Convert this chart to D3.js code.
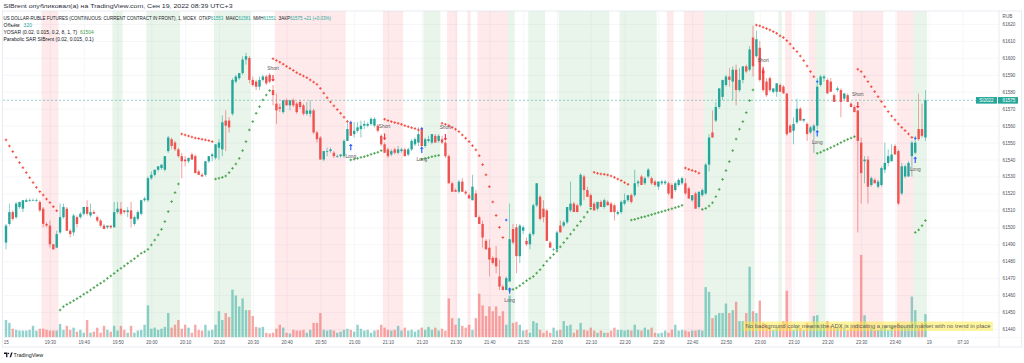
<!DOCTYPE html>
<html>
<head>
<meta charset="utf-8">
<script src="https://cdn.jsdelivr.net/npm/d3@7"></script>
<style>
  body { margin: 0; background: #fff; overflow: hidden; }
  svg text { font-family: "Liberation Sans", Arial, sans-serif; }
</style>
</head>
<body>
<div id="chart"></div>
<script>
// one bar per minute, first bar 19:17, last bar 23:49
var ohlc = [
[61491,61502,61487,61501],[61502,61514,61501,61509],[61509,61510,61504,61505],[61506,61515,61505,61514],[61512,61515,61511,61515],
[61511,61516,61509,61516],[61515,61517,61515,61516],[61516,61517,61515,61516],[61516,61517,61516,61516],[61516,61517,61515,61516],
[61515,61516,61509,61510],[61511,61512,61500,61502],[61502,61503,61500,61501],[61501,61504,61488,61490],[61490,61490,61487,61487],
[61488,61498,61488,61496],[61497,61514,61496,61506],[61506,61514,61505,61512],[61511,61512,61498,61498],[61498,61499,61494,61496],
[61497,61508,61495,61507],[61506,61507,61500,61502],[61506,61509,61505,61508],[61508,61512,61507,61512],[61512,61516,61507,61508],
[61507,61514,61506,61509],[61509,61510,61508,61508],[61506,61507,61503,61504],[61504,61505,61500,61501],[61501,61502,61499,61499],
[61500,61501,61499,61501],[61501,61501,61499,61500],[61500,61515,61500,61509],[61509,61515,61508,61511],[61511,61515,61507,61508],
[61510,61510,61508,61509],[61509,61512,61506,61510],[61510,61515,61500,61505],[61502,61507,61501,61506],[61505,61510,61504,61509],
[61508,61516,61507,61516],[61516,61518,61515,61517],[61516,61530,61515,61529],[61529,61533,61528,61531],[61531,61534,61530,61534],
[61534,61536,61533,61536],[61535,61537,61534,61537],[61534,61542,61533,61542],[61545,61554,61544,61553],[61552,61553,61546,61548],
[61550,61551,61545,61546],[61546,61547,61541,61542],[61542,61544,61529,61539],[61540,61542,61536,61539],[61539,61541,61538,61541],
[61543,61544,61540,61540],[61542,61543,61532,61532],[61533,61534,61531,61531],[61531,61532,61530,61530],[61531,61539,61530,61539],
[61539,61542,61538,61542],[61542,61544,61539,61543],[61541,61549,61540,61549],[61547,61552,61540,61550],[61546,61566,61542,61562],
[61563,61569,61545,61560],[61563,61565,61556,61559],[61567,61588,61566,61587],[61586,61590,61585,61589],[61588,61591,61587,61591],
[61591,61601,61590,61599],[61599,61603,61596,61601],[61600,61601,61585,61587],[61587,61589,61583,61584],[61586,61587,61581,61583],
[61583,61589,61581,61587],[61587,61590,61586,61589],[61589,61590,61584,61585],[61590,61591,61585,61586],[61581,61584,61572,61578],
[61573,61579,61561,61569],[61571,61573,61568,61570],[61568,61575,61567,61575],[61575,61576,61572,61572],[61572,61575,61569,61575],
[61575,61576,61571,61572],[61573,61574,61567,61568],
[61574,61575,61570,61571],[61572,61573,61566,61567],[61567,61574,61566,61569],
[61567,61575,61565,61569],[61569,61570,61555,61556],[61556,61557,61550,61552],[61553,61554,61540,61540],[61540,61545,61539,61545],
[61545,61547,61542,61545],[61545,61547,61544,61546],[61544,61545,61541,61542],[61542,61543,61541,61542],[61542,61543,61541,61543],
[61542,61552,61541,61551],[61551,61562,61551,61558],[61562,61563,61554,61554],[61555,61562,61553,61557],[61557,61562,61556,61559],
[61558,61563,61553,61560],[61560,61563,61558,61561],[61560,61562,61559,61561],[61561,61565,61560,61564],[61560,61565,61559,61564],
[61560,61561,61556,61557],[61554,61555,61548,61549],[61549,61550,61544,61544],[61546,61547,61541,61542],[61543,61546,61542,61545],
[61546,61547,61543,61544],[61544,61548,61543,61546],[61545,61547,61544,61546],[61546,61547,61542,61542],[61543,61547,61542,61546],
[61546,61552,61545,61551],[61549,61553,61548,61552],[61550,61559,61548,61555],[61558,61559,61547,61548],[61548,61553,61547,61552],
[61551,61554,61550,61552],[61550,61555,61549,61555],[61554,61555,61550,61550],[61551,61555,61550,61554],[61552,61554,61549,61550],
[61550,61551,61541,61542],[61542,61543,61526,61526],[61526,61527,61521,61521],[61522,61523,61521,61521],[61521,61528,61520,61527],
[61527,61529,61521,61521],[61521,61522,61519,61520],[61519,61520,61517,61517],[61516,61531,61516,61524],[61520,61522,61506,61506],
[61506,61507,61502,61502],[61502,61504,61488,61494],[61492,61493,61487,61487],[61488,61493,61471,61481],[61482,61483,61478,61479],
[61482,61489,61473,61477],[61471,61481,61463,61465],[61465,61466,61463,61463],[61463,61471,61463,61470],[61468,61514,61468,61493],
[61499,61502,61490,61491],[61500,61502,61473,61483],[61483,61502,61479,61501],
[61498,61501,61496,61500],[61492,61494,61489,61490],[61490,61497,61487,61496],[61496,61514,61495,61513],[61513,61526,61512,61526],
[61518,61519,61504,61505],[61511,61516,61503,61506],[61510,61511,61492,61492],[61491,61492,61488,61488],[61487,61488,61486,61487],
[61487,61498,61486,61497],[61501,61504,61497,61497],[61501,61504,61500,61503],[61503,61512,61502,61512],[61510,61527,61509,61514],
[61514,61515,61509,61509],[61513,61514,61509,61509],[61513,61532,61512,61531],[61530,61531,61516,61522],[61522,61524,61518,61518],
[61519,61520,61512,61512],[61514,61515,61510,61510],[61511,61515,61510,61515],[61515,61516,61512,61512],[61512,61517,61511,61516],
[61515,61516,61513,61513],[61514,61515,61509,61509],[61513,61514,61504,61509],[61508,61510,61507,61509],[61509,61516,61508,61515],
[61514,61520,61513,61516],[61516,61519,61515,61519],[61519,61520,61514,61515],[61519,61534,61518,61526],[61526,61528,61524,61527],
[61530,61531,61525,61525],[61526,61530,61525,61529],[61530,61535,61529,61534],[61529,61530,61525,61526],[61527,61528,61524,61525],
[61524,61527,61522,61527],[61526,61528,61525,61527],[61526,61528,61525,61527],[61526,61527,61519,61520],[61525,61526,61517,61517],
[61522,61527,61521,61526],[61525,61529,61524,61528],[61526,61530,61525,61529],[61526,61529,61519,61520],[61523,61524,61517,61517],
[61516,61519,61515,61519],[61520,61521,61511,61511],[61512,61521,61511,61521],[61519,61523,61518,61522],[61520,61538,61519,61537],
[61537,61555,61533,61553],[61556,61569,61553,61553],[61563,61574,61562,61571],[61571,61582,61570,61582],[61577,61587,61575,61587],
[61584,61590,61583,61589],[61589,61594,61583,61587],[61586,61595,61575,61593],[61593,61596,61572,61581],[61581,61594,61580,61587],
[61587,61595,61585,61595],[61595,61596,61591,61592],[61593,61607,61592,61605],[61612,61619,61589,61595],[61601,61616,61600,61611],
[61606,61610,61586,61587],[61593,61595,61580,61581],[61586,61588,61577,61578],[61588,61589,61580,61581],[61580,61582,61579,61582],
[61580,61585,61577,61585],[61584,61585,61580,61580],[61583,61584,61579,61579],[61579,61579,61554,61555],[61560,61561,61556,61556],
[61557,61565,61549,61561],[61562,61576,61561,61570],[61570,61571,61563,61563],[61563,61564,61562,61564],[61561,61562,61551,61555],
[61556,61560,61555,61559],[61557,61561,61544,61560],[61560,61588,61558,61583],[61584,61590,61583,61589],[61588,61590,61586,61589],
[61587,61588,61579,61579],[61586,61588,61580,61580],[61578,61579,61574,61574],[61581,61583,61580,61582],[61581,61582,61565,61574],
[61576,61579,61575,61579],[61578,61579,61574,61574],[61573,61574,61571,61571],[61571,61572,61568,61568],[61569,61569,61497,61551],
[61550,61553,61514,61532],[61539,61542,61526,61540],[61540,61542,61514,61524],[61525,61530,61524,61529],[61528,61529,61526,61526],
[61524,61528,61523,61527],[61525,61536,61524,61535],[61534,61550,61532,61538],[61538,61546,61536,61542],[61539,61549,61539,61543],
[61548,61549,61543,61543],[61545,61546,61513,61514],[61520,61538,61519,61536],[61530,61537,61529,61536],[61530,61539,61530,61538],
[61542,61551,61530,61550],[61544,61554,61543,61550],[61558,61579,61551,61552],[61558,61573,61553,61554],[61553,61581,61551,61575]
];

var volumes = [
240,200,120,105,95,95,95,105,160,95, 120,120,105,95,95,95,185,105,160,105,
135,80,105,65,240,65,80,135,65,160, 105,80,160,95,160,105,65,160,65,95,
105,175,440,120,135,105,120,145,335,135, 175,240,120,175,135,65,175,105,95,175,
95,105,175,360,240,335,280,655,575,425, 535,375,375,295,145,135,145,65,55,65,
120,175,135,65,55,105,95,
95,105,65,105,200,200,335,105,95,105, 95,65,80,105,120,105,80,175,120,95,
105,65,95,105,175,135,105,95,105,160, 95,135,95,105,80,105,135,105,145,105,
135,95,120,95,535,265,175,265,160,135, 175,105,265,600,440,295,425,360,425,295,
360,175,575,200,215,175,
95,105,65,225,200,105,65,95,65,135, 95,105,225,160,175,65,105,200,105,95,
135,95,65,95,65,65,95,135,105,105, 95,105,95,175,105,95,135,105,135,65,
55,65,95,65,105,175,95,105,95,80, 95,95,105,95,690,625,265,305,335,335,
465,335,375,490,225,
225,335,970,360,335,505,200,175,135,105, 135,175,225,640,135,105,160,135,105,200,
160,295,305,175,145,225,160,135,135,160, 135,105,135,175,175,1130,305,175,135,105,
105,135,160,105,160,135,200,160,135,175, 560,375,135,200,320
];

// parabolic SAR runs: [first bar, values]
var sarShort = [
  [0, [61551.6,61548.0,61544.7,61541.3,61538.2,61535.2,61532.3,61529.3,61526.4,61523.6,61521.1,61519.1,61516.7,61514.6,61512.2,61509.8]],
  [52, [61555.1,61554.5,61553.9,61553.3,61552.7,61552.4,61552.0,61551.6,61551.2,61550.6]],
  [79, [61599.5,61598.5,61597.5,61596.3,61595,61593.8,61592.6,61591.3,61590.3,61589.3,61588.3,61587,61585.7,61584.4,61582,61579.2,61576.5,61574,61571.7,61569.5,61567.3,61565,61562.5]],
  [112, [61563.8,61563.0,61562.4,61561.8,61561.4,61560.8,61560.0,61559.4,61558.8,61558.3,61557.5]],
  [129, [61561.4,61560.8,61560,61559,61557.9,61556.5,61554.5,61552.6,61550.6,61548.2,61545.7,61542.3,61537,61531,61524,61515,61507,61500,61494]],
  [174, [61532.5,61531.9,61531.5,61531.3,61530.9,61530.3,61529.5,61528.5,61527.6,61526.4,61525.4]],
  [201, [61535,61534.2,61533.6,61533,61532]],
  [222, [61619.4,61618.9,61618.1,61617.3,61616.5,61615.5,61614.5,61613,61612,61610.2,61608.2,61605.7,61603.7,61601.1,61598.4,61595.2,61591.9,61588.9]],
  [252, [61593.3,61591.9,61588.9,61586.0,61583.0,61580.1,61577.1,61574.2,61571.2,61568.3,61565.7,61563.4,61561.0,61559.0,61557.1,61555.1,61553.1]]
];
var sarLong = [
  [16, [61451.2,61453.2,61454.5,61455.5,61456.7,61457.9,61459.1,61460.5,61461.6,61463.0,61464.4,61465.8,61467.0,61468.3,61469.9,61471.3,61472.8,61474.4,61475.8,61477.2,61478.7,61480.1,61481.5,61483.1,61484.7,61485.6,61487.0,61489.6,61492.5,61495.5,61498.8,61503.4,61509.3,61515.2,61520.5,61525.6]],
  [62, [61528.5,61529,61529.5,61530.3,61532.3,61534.8,61537.4,61540.7,61545.3,61550.6,61557.5,61562.4,61567.3,61571.2,61575.2,61578.1,61580.7]],
  [102, [61539.8,61540.2,61540.7,61541.3,61541.7,61542.3,61543.1,61543.7,61544.3,61545.3]],
  [123, [61540.2,61540.7,61541.1,61541.7,61542.1,61542.5]],
  [149, [61462.6,61463.4,61464.2,61465.5,61467,61468.5,61469.8,61471,61473,61475,61477.5,61480,61482,61484,61486,61488.5,61491,61493.5,61496,61498.5,61501,61503.5,61506,61509,61511]],
  [185, [61504.3,61504.7,61505.3,61505.9,61506.3,61506.9,61507.5,61508.1,61508.7,61509.2,61509.8,61510.4,61511.0,61511.6,61512.2,61513.0]],
  [206, [61510.6,61511.2,61512.6,61514.5,61518.1,61522.4,61528.3,61533.5,61538.8,61545.3,61552.1,61557.9,61562.4,61567.7,61574.8,61581.1]],
  [240, [61543.7,61544.3,61545.3,61546.1,61547,61548,61549,61550,61551,61551.9,61552.7,61553.5]],
  [269, [61497,61498.5,61501,61504]]
];
var flipMarks = [[102, 61561.8], [123, 61558.3], [148, 61504.3], [240, 61586], [269, 61552.5]];
var longSignals = [[102, 61547.3], [123, 61545.7], [149, 61462.6], [240, 61555.5], [269, 61539.8]];
var shortSignals = [[79, 61588], [112, 61553.5], [130, 61553.2], [224, 61592.5], [252, 61572.2]];

// ADX background: [first bar, last bar]
var greenBands = [[32,34],[42,51],[62,72],[124,128],[149,150],[155,159],[164,178],[182,192],[207,221],[229,229],[240,242],[269,272]];
var redBands = [[11,15],[80,100],[112,117],[131,133],[137,137],[140,148],[196,197],[201,206],[231,232],[238,239],[251,259],[264,268]];

// the first label is the visible tail of 19:15, cut by the left edge
var tickIdx = [-2,13,23,33,43,53,63,73,83,93,103,113,123,133,143,153,163,173,183,193,203,213,223,233,243,253,263,273,283];
var tickLabels = ["15","19:30","19:40","19:50","20:00","20:10","20:20","20:30","20:40","20:50","21:00","21:10","21:20","21:30","21:40","21:50","22:00","22:10","22:20","22:30","22:40","22:50","23:00","23:10","23:20","23:30","23:40","19","07:10"];
var priceTicks = d3.range(61440, 61621, 10);
var lastPrice = 61575;

var upColor = '#26a69a', downColor = '#ef5350';
var pLeft = 3, pRight = 999, pTop = 11, pBottom = 337.5;

var svg = d3.select('#chart')
.append('svg')
.attr('width', 1024)
.attr('height', 363);

svg.append('rect').attr('width', 1024).attr('height', 363).attr('fill', '#fff');

var x = d3.scaleLinear().domain([0, ohlc.length - 1]).range([6, 925.4]);
var y = d3.scaleLinear().domain([61440, 61620]).range([329, 24]);
var yVol = d3.scaleLinear().domain([0, 1130]).range([pBottom, 255]);
var step = x(1) - x(0);

svg.append('clipPath').attr('id', 'plotclip')
.append('rect').attr('x', pLeft).attr('y', pTop).attr('width', pRight - pLeft).attr('height', pBottom - pTop);

var plot = svg.append('g').attr('clip-path', 'url(#plotclip)');

// grid
plot.append('g')
.attr('transform', 'translate(' + pRight + ',0)')
.call(d3.axisLeft(y).tickValues(priceTicks).tickSize(pRight - pLeft).tickFormat(''))
.call(function(g) {
  g.select('.domain').remove();
  g.selectAll('line').attr('stroke', '#f0f2f6').attr('stroke-width', 0.6);
});
plot.append('g')
.attr('transform', 'translate(0,' + pBottom + ')')
.call(d3.axisBottom(x).tickValues(tickIdx).tickSize(-(pBottom - pTop)).tickFormat(''))
.call(function(g) {
  g.select('.domain').remove();
  g.selectAll('line').attr('stroke', '#f0f2f6').attr('stroke-width', 0.6);
});

// ADX bands
function drawBands(list, color) {
  plot.append('g').selectAll('rect')
  .data(list)
  .enter()
  .append('rect')
  .attr('x', function(d) { return x(d[0]) - step / 2; })
  .attr('width', function(d) { return x(d[1]) - x(d[0]) + step; })
  .attr('y', pTop)
  .attr('height', pBottom - pTop)
  .attr('fill', color);
}
drawBands(greenBands, 'rgba(76,175,80,0.12)');
drawBands(redBands, 'rgba(242,54,69,0.11)');

// volume
plot.append('g').selectAll('rect')
.data(volumes)
.enter()
.append('rect')
.attr('x', function(d, i) { return x(i) - 1.2; })
.attr('width', 2.4)
.attr('y', function(d) { return yVol(d); })
.attr('height', function(d) { return pBottom - yVol(d); })
.attr('fill', function(d, i) { return ohlc[i][3] >= ohlc[i][0] ? upColor : downColor; })
.attr('opacity', 0.5);

// last price line
plot.append('line')
.attr('x1', pLeft).attr('x2', pRight)
.attr('y1', y(lastPrice)).attr('y2', y(lastPrice))
.attr('stroke', upColor).attr('stroke-width', 0.7)
.attr('stroke-dasharray', '2,2').attr('opacity', 0.7);

// candles
var candles = plot.append('g').selectAll('g')
.data(ohlc)
.enter()
.append('g')
.attr('fill', function(d) { return d[3] >= d[0] ? upColor : downColor; })
.attr('stroke', function(d) { return d[3] >= d[0] ? upColor : downColor; });

candles.append('line')
.attr('x1', function(d, i) { return x(i); })
.attr('x2', function(d, i) { return x(i); })
.attr('y1', function(d) { return y(d[1]); })
.attr('y2', function(d) { return y(d[2]); })
.attr('stroke-width', 0.7)
.attr('opacity', 0.8);

candles.append('rect')
.attr('stroke', 'none')
.attr('x', function(d, i) { return x(i) - 1.2; })
.attr('width', 2.4)
.attr('y', function(d) { return y(Math.max(d[0], d[3])); })
.attr('height', function(d) { return Math.max(0.7, Math.abs(y(d[0]) - y(d[3]))); });

// SAR crosses
function flatten(runs) {
  var pts = [];
  runs.forEach(function(r) {
    r[1].forEach(function(v, k) { pts.push([r[0] + k, v]); });
  });
  return pts;
}
var cross = 'M-1.3,0H1.3M0,-1.3V1.3';
function drawCrosses(pts, color) {
  plot.append('g').selectAll('path')
  .data(pts)
  .enter()
  .append('path')
  .attr('d', cross)
  .attr('transform', function(d) { return 'translate(' + x(d[0]) + ',' + y(d[1]) + ')'; })
  .attr('stroke', color)
  .attr('stroke-width', 0.9)
  .attr('fill', 'none');
}
drawCrosses(flatten(sarShort), '#f44336');
drawCrosses(flatten(sarLong), '#43a047');
drawCrosses(flipMarks, '#2962ff');

// signals
var sig = plot.append('g');
longSignals.forEach(function(s) {
  var cx = x(s[0]), cy = y(s[1]);
  sig.append('path')
  .attr('d', 'M' + cx + ',' + (cy - 3.5) + 'l-1.9,2.4h1.3v4.2h1.2v-4.2h1.3z')
  .attr('fill', '#2962ff');
  sig.append('text')
  .attr('x', cx).attr('y', cy + 11)
  .attr('text-anchor', 'middle')
  .attr('font-size', 4.8)
  .attr('fill', '#555')
  .text('Long');
});
shortSignals.forEach(function(s) {
  var cx = x(s[0]), cy = y(s[1]);
  sig.append('path')
  .attr('d', 'M' + cx + ',' + (cy + 3.5) + 'l-1.9,-2.4h1.3v-4.2h1.2v4.2h1.3z')
  .attr('fill', '#f23645');
  sig.append('text')
  .attr('x', cx).attr('y', cy - 8.5)
  .attr('text-anchor', 'middle')
  .attr('font-size', 4.8)
  .attr('fill', '#555')
  .text('Short');
});

// annotation
svg.append('rect')
.attr('x', 743).attr('y', 321.5).attr('width', 250).attr('height', 9.5)
.attr('fill', '#ffeb3b').attr('opacity', 0.5);
svg.append('text')
.attr('x', 745.5).attr('y', 328.3)
.attr('font-size', 5.4)
.attr('fill', '#5d5d5d')
.attr('textLength', 245).attr('lengthAdjust', 'spacingAndGlyphs')
.text('No background color means the ADX is indicating a rangebound market with no trend in place');

// frame
svg.append('rect')
.attr('x', 2.5).attr('y', 11).attr('width', 1019).attr('height', 336)
.attr('fill', 'none').attr('stroke', '#e0e3eb').attr('stroke-width', 0.7);
svg.append('line').attr('x1', pRight).attr('x2', pRight).attr('y1', 11).attr('y2', 347)
.attr('stroke', '#e0e3eb').attr('stroke-width', 0.7);
svg.append('line').attr('x1', 2.5).attr('x2', 1021.5).attr('y1', pBottom).attr('y2', pBottom)
.attr('stroke', '#eef0f3').attr('stroke-width', 0.5);

// price axis
svg.append('g')
.attr('transform', 'translate(' + pRight + ',0)')
.call(d3.axisRight(y).tickValues(priceTicks).tickSize(0).tickPadding(3.6).tickFormat(d3.format('d')))
.call(function(g) {
  g.select('.domain').remove();
  g.selectAll('text').attr('font-size', 4.6).attr('fill', '#50535e')
  .attr('font-family', '"Liberation Sans", Arial, sans-serif');
});
svg.append('text').attr('x', 1002.6).attr('y', 17.5).attr('font-size', 4.6).attr('fill', '#50535e').text('RUB');

// time axis
svg.append('g')
.attr('transform', 'translate(0,' + pBottom + ')')
.call(d3.axisBottom(x).tickValues(tickIdx).tickSize(0).tickPadding(3.2)
  .tickFormat(function(d, k) { return tickLabels[k]; }))
.call(function(g) {
  g.select('.domain').remove();
  g.selectAll('text').attr('font-size', 4.5).attr('fill', '#50535e')
  .attr('font-family', '"Liberation Sans", Arial, sans-serif');
  // left-edge label sits just inside the frame
  g.select('.tick text').attr('text-anchor', 'start').attr('x', 3.2 - x(-2));
});

// last price labels
var ly = y(lastPrice);
svg.append('rect').attr('x', 976).attr('y', ly - 3.2).attr('width', 21).attr('height', 6.6).attr('fill', upColor);
svg.append('text').attr('x', 986.5).attr('y', ly + 1.7).attr('text-anchor', 'middle')
.attr('font-size', 4.5).attr('fill', '#fff').text('SI2022');
svg.append('rect').attr('x', 998).attr('y', ly - 3.2).attr('width', 20).attr('height', 6.6).attr('fill', upColor);
svg.append('text').attr('x', 1002.6).attr('y', ly + 1.7)
.attr('font-size', 4.6).attr('fill', '#fff').text(lastPrice);

// header and legend
svg.append('text').attr('x', 3.5).attr('y', 7.6)
.attr('font-size', 6).attr('fill', '#2a2e39')
.attr('textLength', 229).attr('lengthAdjust', 'spacingAndGlyphs')
.text('SIBrent опубликовал(а) на TradingView.com, Сен 19, 2022 08:39 UTC+3');

var legend = svg.append('g').attr('font-size', 5).attr('fill', '#131722');
var ohlcNames = ['ОТКР', 'МАКС', 'МИН', 'ЗАКР'];
var ohlcValues = ['61553', '61581', '61551', '61575'];
var quote = legend.append('text').attr('x', 3.5).attr('y', 19.6).attr('font-size', 4.5);
quote.append('tspan').text('US DOLLAR-RUBLE FUTURES (CONTINUOUS: CURRENT CONTRACT IN FRONT), 1, MOEX\u00a0\u00a0');
ohlcNames.forEach(function(n, k) {
  quote.append('tspan').text((k ? '\u00a0\u00a0' : '') + n);
  quote.append('tspan').attr('fill', upColor).text(ohlcValues[k]);
});
quote.append('tspan').attr('fill', upColor).text('\u00a0+21 (+0.03%)');

var volLine = legend.append('text').attr('x', 3.5).attr('y', 26.6);
volLine.append('tspan').text('Объём\u00a0\u00a0\u00a0');
volLine.append('tspan').attr('fill', upColor).text('320');

var sarLine = legend.append('text').attr('x', 3.5).attr('y', 33.8);
sarLine.append('tspan').text('YOSAR (0.02, 0.015, 0.2, 8, 1, 7)\u00a0\u00a0');
sarLine.append('tspan').attr('fill', '#43a047').text('61504');

legend.append('text').attr('x', 3.5).attr('y', 40.8).text('Parabolic SAR SIBrent (0.02, 0.015, 0.1)');

// footer logo
var logo = svg.append('g').attr('fill', '#131722');
logo.append('path').attr('d', 'M4,352.6h3.4v4.6h-1.3v-3.2h-2.1z');
logo.append('circle').attr('cx', 8.4).attr('cy', 353.5).attr('r', 0.8);
logo.append('path').attr('d', 'M9.6,357.2l1.6,-4.6h1.4l-1.6,4.6z');
svg.append('text').attr('x', 13.6).attr('y', 357.2).attr('font-size', 5.4).attr('fill', '#131722').text('TradingView');
</script>
</body>
</html>
